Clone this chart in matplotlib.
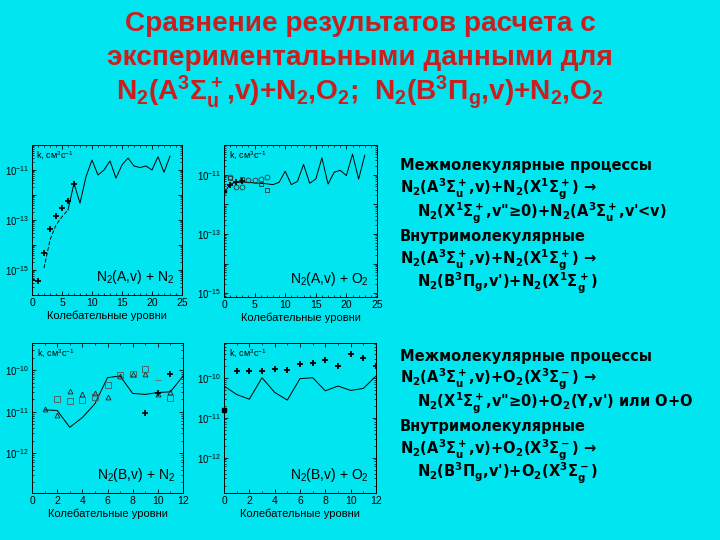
import numpy as np
import matplotlib
matplotlib.use("Agg")
import matplotlib.pyplot as plt
from matplotlib.ticker import FuncFormatter, LogLocator, MultipleLocator, NullFormatter

plt.rcParams["font.family"] = ["Liberation Sans", "DejaVu Sans"]
plt.rcParams["mathtext.default"] = "regular"

BG = "#00e6f0"
RED = "#cc1e1e"

# N2(A,v) + N2
a_n2_plus_v = [0, 1, 2, 3, 4, 5, 6, 7]
a_n2_plus_k = [4.0e-16, 3.6e-16, 5.0e-15, 4.3e-14, 1.4e-13, 3.0e-13, 5.8e-13, 2.8e-12]
a_n2_dash_v = [2, 3, 4, 5, 6]
a_n2_dash_k = [1.2e-15, 1.6e-14, 6.3e-14, 1.35e-13, 2.5e-13]
a_n2_calc_v = list(range(6, 24))
a_n2_calc_k = [2.5e-13, 2.95e-12, 4.7e-13, 5.4e-12, 2.5e-11, 6.3e-12, 1.0e-11, 2.3e-11, 4.7e-12,
               1.6e-11, 3.0e-11, 1.45e-11, 1.25e-11, 1.45e-11, 1.0e-11, 3.4e-11, 8.1e-12, 3.6e-11]

# N2(A,v) + O2
a_o2_calc_v = list(range(0, 24))
a_o2_calc_k = [2.3e-12, 4.8e-12, 5.5e-12, 5.6e-12, 5.5e-12, 5.2e-12, 5.1e-12, 4.9e-12, 4.6e-12,
               5.5e-12, 1.3e-11, 4.6e-12, 5.9e-12, 2.2e-11, 5.1e-12, 7.1e-12, 3.7e-11, 4.8e-12,
               1.2e-11, 1.4e-11, 9.3e-12, 4.9e-11, 7.1e-12, 4.5e-11]
a_o2_circ_v = [0, 1, 2, 3, 4, 5, 6, 7]
a_o2_circ_k = [2.8e-12, 8.3e-12, 3.8e-12, 3.8e-12, 6.8e-12, 6.8e-12, 7.1e-12, 8.3e-12]
a_o2_sq_v = [1, 3, 6, 7]
a_o2_sq_k = [7.9e-12, 7.2e-12, 4.8e-12, 2.95e-12]
a_o2_plus_v = [0, 1, 2, 3]
a_o2_plus_k = [2.6e-12, 4.6e-12, 5.5e-12, 6.3e-12]

# N2(B,v) + N2
b_n2_calc_v = list(range(1, 13))
b_n2_calc_k = [1.1e-11, 1.07e-11, 4.2e-12, 7.2e-12, 1.55e-11, 6.6e-11, 7.2e-11, 2.75e-11,
               2.6e-11, 2.9e-11, 3.0e-11, 7.2e-11]
b_n2_tri_v = list(range(1, 12))
b_n2_tri_k = [1.17e-11, 8.5e-12, 3.2e-11, 2.7e-11, 2.8e-11, 2.2e-11, 7.2e-11, 7.9e-11,
              7.9e-11, 2.7e-11, 2.95e-11]
b_n2_sq_v = [2, 3, 4, 5, 6, 7, 8, 9, 11]
b_n2_sq_k = [2.0e-11, 1.8e-11, 1.9e-11, 2.3e-11, 4.4e-11, 7.6e-11, 7.9e-11, 1.05e-10, 2.1e-11]
b_n2_dash_v = [10]
b_n2_dash_k = [5.9e-11]
b_n2_plus_v = [9, 10, 11]
b_n2_plus_k = [9.1e-12, 2.8e-11, 7.9e-11]

# N2(B,v) + O2
b_o2_calc_v = list(range(0, 13))
b_o2_calc_k = [6.2e-11, 3.8e-11, 2.9e-11, 1.0e-10, 4.3e-11, 2.75e-11, 9.5e-11, 1.0e-10,
               4.7e-11, 6.2e-11, 4.8e-11, 5.4e-11, 1.1e-10]
b_o2_plus_v = list(range(1, 13))
b_o2_plus_k = [1.5e-10, 1.5e-10, 1.5e-10, 1.66e-10, 1.6e-10, 2.2e-10, 2.3e-10, 2.7e-10,
               1.95e-10, 4.0e-10, 3.2e-10, 2.0e-10]
b_o2_fill_v = [0]
b_o2_fill_k = [1.6e-11]

XLABEL = "Колебательные уровни"
KLABEL = "k, см$^3$с$^{-1}$"


def exp_label(val, pos):
    return "$10^{%d}$" % int(round(np.log10(val)))


def make_axes(fig, px, xmax, xmajor, ylim, label_decades, title):
    W, H = 720, 540
    left, top, right, bottom = px
    ax = fig.add_axes([left / W, 1 - bottom / H, (right - left) / W, (bottom - top) / H])
    ax.set_facecolor("none")
    ax.set_yscale("log")
    ax.set_xlim(0, xmax)
    ax.set_ylim(*ylim)
    ax.xaxis.set_major_locator(MultipleLocator(xmajor))
    ax.xaxis.set_minor_locator(MultipleLocator(1))
    ax.yaxis.set_major_locator(LogLocator(base=10, numticks=20))
    ax.yaxis.set_minor_locator(LogLocator(base=10, subs=np.arange(2, 10) * 1.0, numticks=20))
    ax.yaxis.set_minor_formatter(NullFormatter())
    ax.yaxis.set_major_formatter(FuncFormatter(
        lambda v, p: exp_label(v, p) if int(round(np.log10(v))) in label_decades else ""))
    ax.tick_params(which="both", direction="in", top=True, right=True, pad=2)
    ax.tick_params(axis="x", labelsize=7.5)
    ax.tick_params(axis="y", labelsize=7)
    ax.tick_params(which="major", length=3, width=0.6)
    ax.tick_params(which="minor", length=1.5, width=0.5)
    for s in ax.spines.values():
        s.set_linewidth(0.7)
    ax.set_xlabel(XLABEL, fontsize=8, labelpad=2)
    ax.text(0.03, 0.97, KLABEL, transform=ax.transAxes, fontsize=6.5, va="top", ha="left")
    ax.text(0.95, 0.06, title, transform=ax.transAxes, fontsize=10, va="bottom", ha="right")
    return ax


fig = plt.figure(figsize=(7.2, 5.4), dpi=100)
fig.patch.set_facecolor(BG)

# top-left
ax1 = make_axes(fig, (32, 145, 182, 295), 25, 5, (1e-16, 1e-10), (-11, -13, -15), "N$_2$(A,v) + N$_2$")
ax1.plot(a_n2_dash_v, a_n2_dash_k, color="black", lw=0.7, ls=(0, (4, 2)))
ax1.plot(a_n2_calc_v, a_n2_calc_k, color="black", lw=0.7)
ax1.plot(a_n2_plus_v, a_n2_plus_k, ls="none", marker="+", ms=5, mew=1.2, color="black")

# top-right
ax2 = make_axes(fig, (224, 145, 377, 297), 25, 5, (7.4e-16, 1e-10), (-11, -13, -15), "N$_2$(A,v) + O$_2$")
ax2.plot(a_o2_calc_v, a_o2_calc_k, color="black", lw=0.7)
ax2.plot(a_o2_circ_v, a_o2_circ_k, ls="none", marker="o", ms=3.5, mfc="none", mec="#333333", mew=0.6)
ax2.plot(a_o2_sq_v, a_o2_sq_k, ls="none", marker="s", ms=3.5, mfc="none", mec="#333333", mew=0.6)
ax2.plot(a_o2_plus_v, a_o2_plus_k, ls="none", marker="+", ms=4.5, mew=1.2, color="black")

# bottom-left
ax3 = make_axes(fig, (32, 343, 183, 493), 12, 2, (1.1e-13, 4.5e-10), (-10, -11, -12), "N$_2$(B,v) + N$_2$")
ax3.plot(b_n2_calc_v, b_n2_calc_k, color="black", lw=0.7)
ax3.plot(b_n2_tri_v, b_n2_tri_k, ls="none", marker="^", ms=3.5, mfc="none", mec="#222222", mew=0.6)
ax3.plot(b_n2_sq_v, b_n2_sq_k, ls="none", marker="s", ms=3.8, mfc="none", mec="#555555", mew=0.6)
ax3.plot(b_n2_dash_v, b_n2_dash_k, ls="none", marker="_", ms=4, mec="#666666", mew=0.6)
ax3.plot(b_n2_plus_v, b_n2_plus_k, ls="none", marker="+", ms=4.5, mew=1.2, color="black")

# bottom-right
ax4 = make_axes(fig, (224, 343, 376, 493), 12, 2, (1.3e-13, 7.4e-10), (-10, -11, -12), "N$_2$(B,v) + O$_2$")
ax4.plot(b_o2_calc_v, b_o2_calc_k, color="black", lw=0.7)
ax4.plot(b_o2_plus_v, b_o2_plus_k, ls="none", marker="+", ms=4.5, mew=1.3, color="black")
ax4.plot(b_o2_fill_v, b_o2_fill_k, ls="none", marker="s", ms=3.5, color="black", clip_on=False)

# title
title_lines = [
    "Сравнение результатов расчета с",
    "экспериментальными данными для",
    r"N$_2$(A$^3\Sigma_u^+$,v)+N$_2$,O$_2$;  N$_2$(B$^3\Pi_g$,v)+N$_2$,O$_2$",
]
for i, line in enumerate(title_lines):
    fig.text(0.5, 1 - (24 + 34 * i) / 540, line, ha="center", va="center",
             fontsize=20.2, fontweight="bold", color=RED)

# right-hand text
block_n2 = [
    ("Межмолекулярные процессы", 0),
    (r"N$_2$(A$^3\Sigma_u^+$,v)+N$_2$(X$^1\Sigma_g^+$) →", 0),
    (r"N$_2$(X$^1\Sigma_g^+$,v" + '"' + r"≥0)+N$_2$(A$^3\Sigma_u^+$,v'<v)", 1),
    ("Внутримолекулярные", 0),
    (r"N$_2$(A$^3\Sigma_u^+$,v)+N$_2$(X$^1\Sigma_g^+$) →", 0),
    (r"N$_2$(B$^3\Pi_g$,v')+N$_2$(X$^1\Sigma_g^+$)", 1),
]
block_o2 = [
    ("Межмолекулярные процессы", 0),
    (r"N$_2$(A$^3\Sigma_u^+$,v)+O$_2$(X$^3\Sigma_g^-$) →", 0),
    (r"N$_2$(X$^1\Sigma_g^+$,v" + '"' + r"≥0)+O$_2$(Y,v') или O+O", 1),
    ("Внутримолекулярные", 0),
    (r"N$_2$(A$^3\Sigma_u^+$,v)+O$_2$(X$^3\Sigma_g^-$) →", 0),
    (r"N$_2$(B$^3\Pi_g$,v')+O$_2$(X$^3\Sigma_g^-$)", 1),
]
for y0, block in ((166, block_n2), (356, block_o2)):
    for i, (line, indent) in enumerate(block):
        x = 400 + 17 * indent
        fig.text(x / 720, 1 - (y0 + 23.5 * i) / 540, line, ha="left", va="center",
                 fontsize=10.5, fontweight="bold", color="black", family="DejaVu Sans")

fig.savefig("out.png", dpi=100, facecolor=BG)
